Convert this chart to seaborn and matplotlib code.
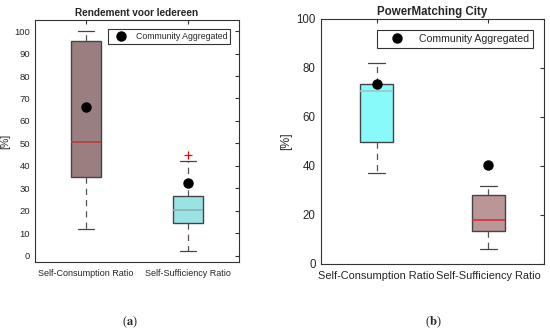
import numpy as np
import pandas as pd
import seaborn as sns
import matplotlib.pyplot as plt

# 상자 그림 요약값 (읽은 값)
cats = ['Self-Consumption Ratio', 'Self-Sufficiency Ratio']

a_lo = [12.0, 2.0]
a_q1 = [35.0, 14.5]
a_med = [50.5, 20.3]
a_q3 = [95.5, 26.5]
a_hi = [100.0, 42.3]
a_flier = [None, 44.7]
a_agg = [66.0, 32.3]

b_lo = [37.0, 6.1]
b_q1 = [49.7, 13.2]
b_med = [70.6, 17.7]
b_q3 = [73.3, 27.9]
b_hi = [82.0, 31.7]
b_flier = [None, None]
b_agg = [73.5, 40.3]


def samples(lo, q1, med, q3, hi, flier):
    # 9개 점: 사분위수가 정확히 index 2, 4, 6에 놓인다
    last = hi if flier is None else flier
    return [lo, q1, q1, med, med, q3, q3, hi, last]


def make_df(lo, q1, med, q3, hi, fl):
    rows = []
    for i, c in enumerate(cats):
        for v in samples(lo[i], q1[i], med[i], q3[i], hi[i], fl[i]):
            rows.append({'cat': c, 'val': v})
    return pd.DataFrame(rows)


df_a = make_df(a_lo, a_q1, a_med, a_q3, a_hi, a_flier)
df_b = make_df(b_lo, b_q1, b_med, b_q3, b_hi, b_flier)

sns.set_style('white')
plt.rcParams['font.family'] = ['Liberation Sans', 'DejaVu Sans']
plt.rcParams['mathtext.fontset'] = 'stix'

fig = plt.figure(figsize=(5.5, 3.35), dpi=100)
ax1 = fig.add_axes([0.0636, 0.218, 0.371, 0.722])
ax2 = fig.add_axes([0.583, 0.213, 0.4066, 0.731])


def draw(ax, df, agg, colors, medcolors, ylim, yticks, fs, xfs, labfs, legfs,
         title, tfs, handlelen, baxpad):
    sns.boxplot(data=df, x='cat', y='val', hue='cat', palette=colors, legend=False,
                width=0.3, whis=1.5, ax=ax, saturation=1,
                boxprops=dict(edgecolor='#444444', linewidth=1.0),
                whiskerprops=dict(color='#555555', linestyle=(0, (5, 4)), linewidth=0.9),
                capprops=dict(color='#444444', linewidth=0.9),
                medianprops=dict(linewidth=1.2),
                flierprops=dict(marker='+', markeredgecolor='red', markersize=6,
                                markeredgewidth=0.9))
    # seaborn 0.13: 박스마다 whisker x2, cap x2, median, flier 순서
    lines = ax.lines
    per = len(lines) // len(cats)
    for i in range(len(cats)):
        lines[i * per + 4].set_color(medcolors[i])
    ax.plot(range(len(cats)), agg, 'o', color='black', markersize=6.5, linestyle='none',
            label='Community Aggregated', zorder=5)
    ax.set_xlim(-0.5, 1.5)
    ax.set_ylim(*ylim)
    ax.set_yticks(yticks)
    ax.set_xlabel('')
    ax.set_ylabel('[%]', fontsize=labfs, labelpad=3)
    ax.set_title(title, fontsize=tfs, fontweight='bold', pad=3)
    ax.tick_params(axis='both', direction='in', labelsize=fs, length=3,
                   top=True, right=True, color='#333333')
    ax.tick_params(axis='x', labelsize=xfs, pad=5)
    for s in ax.spines.values():
        s.set_color('#333333')
        s.set_linewidth(0.8)
    leg = ax.legend(loc='upper right', fontsize=legfs, frameon=True, fancybox=False,
                    edgecolor='black', borderpad=0.35, handletextpad=0.6,
                    handlelength=handlelen, borderaxespad=baxpad)
    leg.get_frame().set_linewidth(0.8)


draw(ax1, df_a, a_agg, ['#9a7f80', '#99e3e5'], ['#b83c3c', '#8fadad'],
     (-2.8, 104.9), np.arange(0, 101, 10), 6.8, 6.5, 7.5, 6.3,
     'Rendement voor Iedereen', 7.2, 2.2, 1.0)
draw(ax2, df_b, b_agg, ['#88fafa', '#bb9696'], ['#99c4c4', '#d03030'],
     (0, 100), np.arange(0, 101, 20), 8.3, 7.9, 8.8, 7.6,
     'PowerMatching City', 8.3, 3.0, 1.1)

fig.text(0.236, 0.03, r'($\mathbf{a}$)', ha='center', fontsize=9, family='Liberation Serif')
fig.text(0.787, 0.03, r'($\mathbf{b}$)', ha='center', fontsize=9, family='Liberation Serif')

fig.savefig('out.png', dpi=100, facecolor='white')
